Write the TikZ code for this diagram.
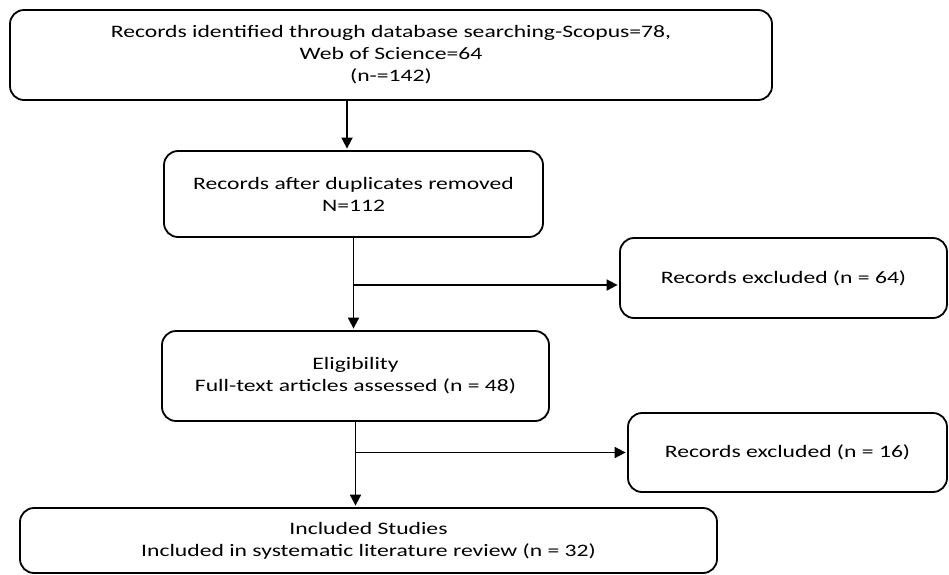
\documentclass[tikz,border=0pt]{standalone}
\usepackage{fontspec}
\setmainfont{Carlito}[FakeStretch=1.35]
\usetikzlibrary{arrows.meta}
\begin{document}
\begin{tikzpicture}[x=1pt,y=-1pt,
  box/.style={draw=black,line width=1.8pt,rounded corners=14pt,inner sep=0pt,
    align=center,font=\fontsize{17.5}{22}\selectfont,text=black},
  arr/.style={line width=1.8pt,-{Triangle[length=11pt,width=11pt]},shorten >=1.5pt}]
\useasboundingbox (0,0) rectangle (949,574);
\node[box,minimum width=762pt,minimum height=90pt] (top) at (391,55)
  {Records identified through database searching-Scopus=78,\\Web of Science=64\\(n-=142)};
\node[box,minimum width=379pt,minimum height=86pt] (dup) at (353.5,194)
  {Records after duplicates removed\\N=112};
\node[box,minimum width=327pt,minimum height=80pt] (ex1) at (783.5,278)
  {Records excluded (n = 64)};
\node[box,minimum width=387pt,minimum height=90pt] (elig) at (355.5,376)
  {Eligibility\\Full-text articles assessed (n = 48)};
\node[box,minimum width=319pt,minimum height=79pt] (ex2) at (787.5,452.5)
  {Records excluded (n = 16)};
\node[box,minimum width=697pt,minimum height=65pt] (inc) at (368.5,540.5)
  {Included Studies\\Included in systematic literature review (n = 32)};
\coordinate (c1) at (347,0);
\coordinate (b1) at (0,285);
\draw[arr] (top.south -| c1) -- (dup.north -| c1);
\draw[arr] (dup.south) -- (elig.north -| dup.south);
\draw[arr] (dup.south |- b1) -- (ex1.west |- b1);
\draw[arr] (elig.south) -- (inc.north -| elig.south);
\draw[arr] (elig.south |- ex2.west) -- (ex2.west);
\end{tikzpicture}
\end{document}
